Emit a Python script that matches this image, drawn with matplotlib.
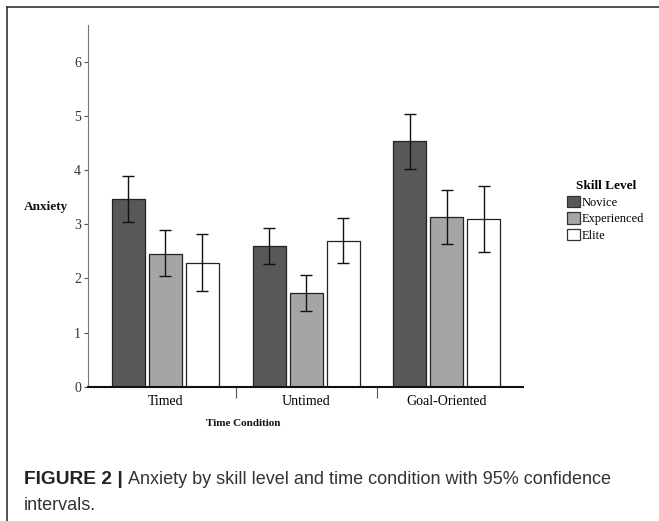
import matplotlib
matplotlib.use("Agg")
import matplotlib.pyplot as plt
from matplotlib.patches import Patch
from matplotlib.lines import Line2D
import numpy as np

categories = ["Timed", "Untimed", "Goal-Oriented"]
skill_levels = ["Novice", "Experienced", "Elite"]
novice = [3.46, 2.60, 4.53]
novice_lo = [3.05, 2.26, 4.03]
novice_hi = [3.89, 2.94, 5.03]
experienced = [2.46, 1.73, 3.13]
experienced_lo = [2.04, 1.39, 2.63]
experienced_hi = [2.89, 2.07, 3.63]
elite = [2.29, 2.70, 3.10]
elite_lo = [1.77, 2.28, 2.49]
elite_hi = [2.82, 3.11, 3.71]
yticks = [0, 1, 2, 3, 4, 5, 6]

series = [(novice, novice_lo, novice_hi), (experienced, experienced_lo, experienced_hi), (elite, elite_lo, elite_hi)]
colors = ["#585858", "#a5a5a5", "#ffffff"]

plt.rcParams['font.family'] = ['Liberation Serif', 'DejaVu Serif']

W, H = 659, 521
fig = plt.figure(figsize=(W / 100, H / 100), dpi=100)
ax = fig.add_axes([0.1335, 0.2578, 0.66, 0.694])

x = np.arange(len(categories))
width = 0.235
offset = 0.263
for i, (vals, lo, hi) in enumerate(series):
    xs = x + (i - 1) * offset
    vals = np.array(vals); lo = np.array(lo); hi = np.array(hi)
    ax.bar(xs, vals, width=width, color=colors[i], edgecolor="#222222", linewidth=0.9, zorder=2)
    ax.errorbar(xs, vals, yerr=[vals - lo, hi - vals], fmt="none", ecolor="#111111",
                elinewidth=1.0, capsize=4, capthick=1.0, zorder=3)

ax.set_xlim(-0.55, 2.54)
ax.set_ylim(0, 6.68)
ax.set_yticks(yticks)
ax.set_yticklabels([str(t) for t in yticks], fontsize=10, color="#333333")
ax.set_xticks(x)
ax.set_xticklabels(categories, fontsize=10)
ax.tick_params(axis='x', which='major', length=0, pad=6)
ax.set_xticks([0.5, 1.5], minor=True)
ax.tick_params(axis='x', which='minor', length=8, width=0.8, color="#555555", direction='out')
ax.tick_params(axis='y', length=3, width=0.8, color="#555555", pad=2)

for s in ["top", "right"]:
    ax.spines[s].set_visible(False)
ax.spines["left"].set_color("#777777")
ax.spines["left"].set_linewidth(0.8)
ax.spines["bottom"].set_color("#111111")
ax.spines["bottom"].set_linewidth(1.5)

fig.text(243 / W, 1 - 424 / H, "Time Condition", fontsize=8, fontweight='bold',
         ha='center', va='center', color="#111111")
fig.text(46 / W, 1 - 207 / H, "Anxiety", fontsize=9.5, fontweight='bold',
         ha='center', va='center', color="#111111")

handles = [Patch(facecolor=c, edgecolor="#333333", linewidth=0.9) for c in colors]
leg = fig.legend(handles, skill_levels, title="Skill Level", loc="upper left",
                 bbox_to_anchor=(567 / W, 1 - 180 / H), frameon=False, fontsize=9,
                 title_fontproperties={'weight': 'bold', 'size': 9.5},
                 handlelength=1.0, handleheight=1.0, handletextpad=0.2,
                 labelspacing=0.3, borderaxespad=0, borderpad=0)
leg._legend_box.align = "center"

# outer frame
fig.add_artist(Line2D([7 / W, 7 / W], [0, 1 - 7 / H], transform=fig.transFigure, color="#333333", linewidth=1.2))
fig.add_artist(Line2D([7 / W, 1], [1 - 7 / H, 1 - 7 / H], transform=fig.transFigure, color="#333333", linewidth=1.2))

cap_font = ['Liberation Sans', 'DejaVu Sans']
fig.text(24 / W, 1 - 480 / H, "FIGURE 2 |", fontsize=13.8, fontweight='bold',
         family=cap_font, va='center', ha='left', color="#222222")
fig.text(128 / W, 1 - 480 / H, "Anxiety by skill level and time condition with 95% confidence",
         fontsize=13, family=cap_font, va='center', ha='left', color="#333333")
fig.text(24 / W, 1 - 505 / H, "intervals.",
         fontsize=13, family=cap_font, va='center', ha='left', color="#333333")

fig.savefig("out.png", dpi=100)
